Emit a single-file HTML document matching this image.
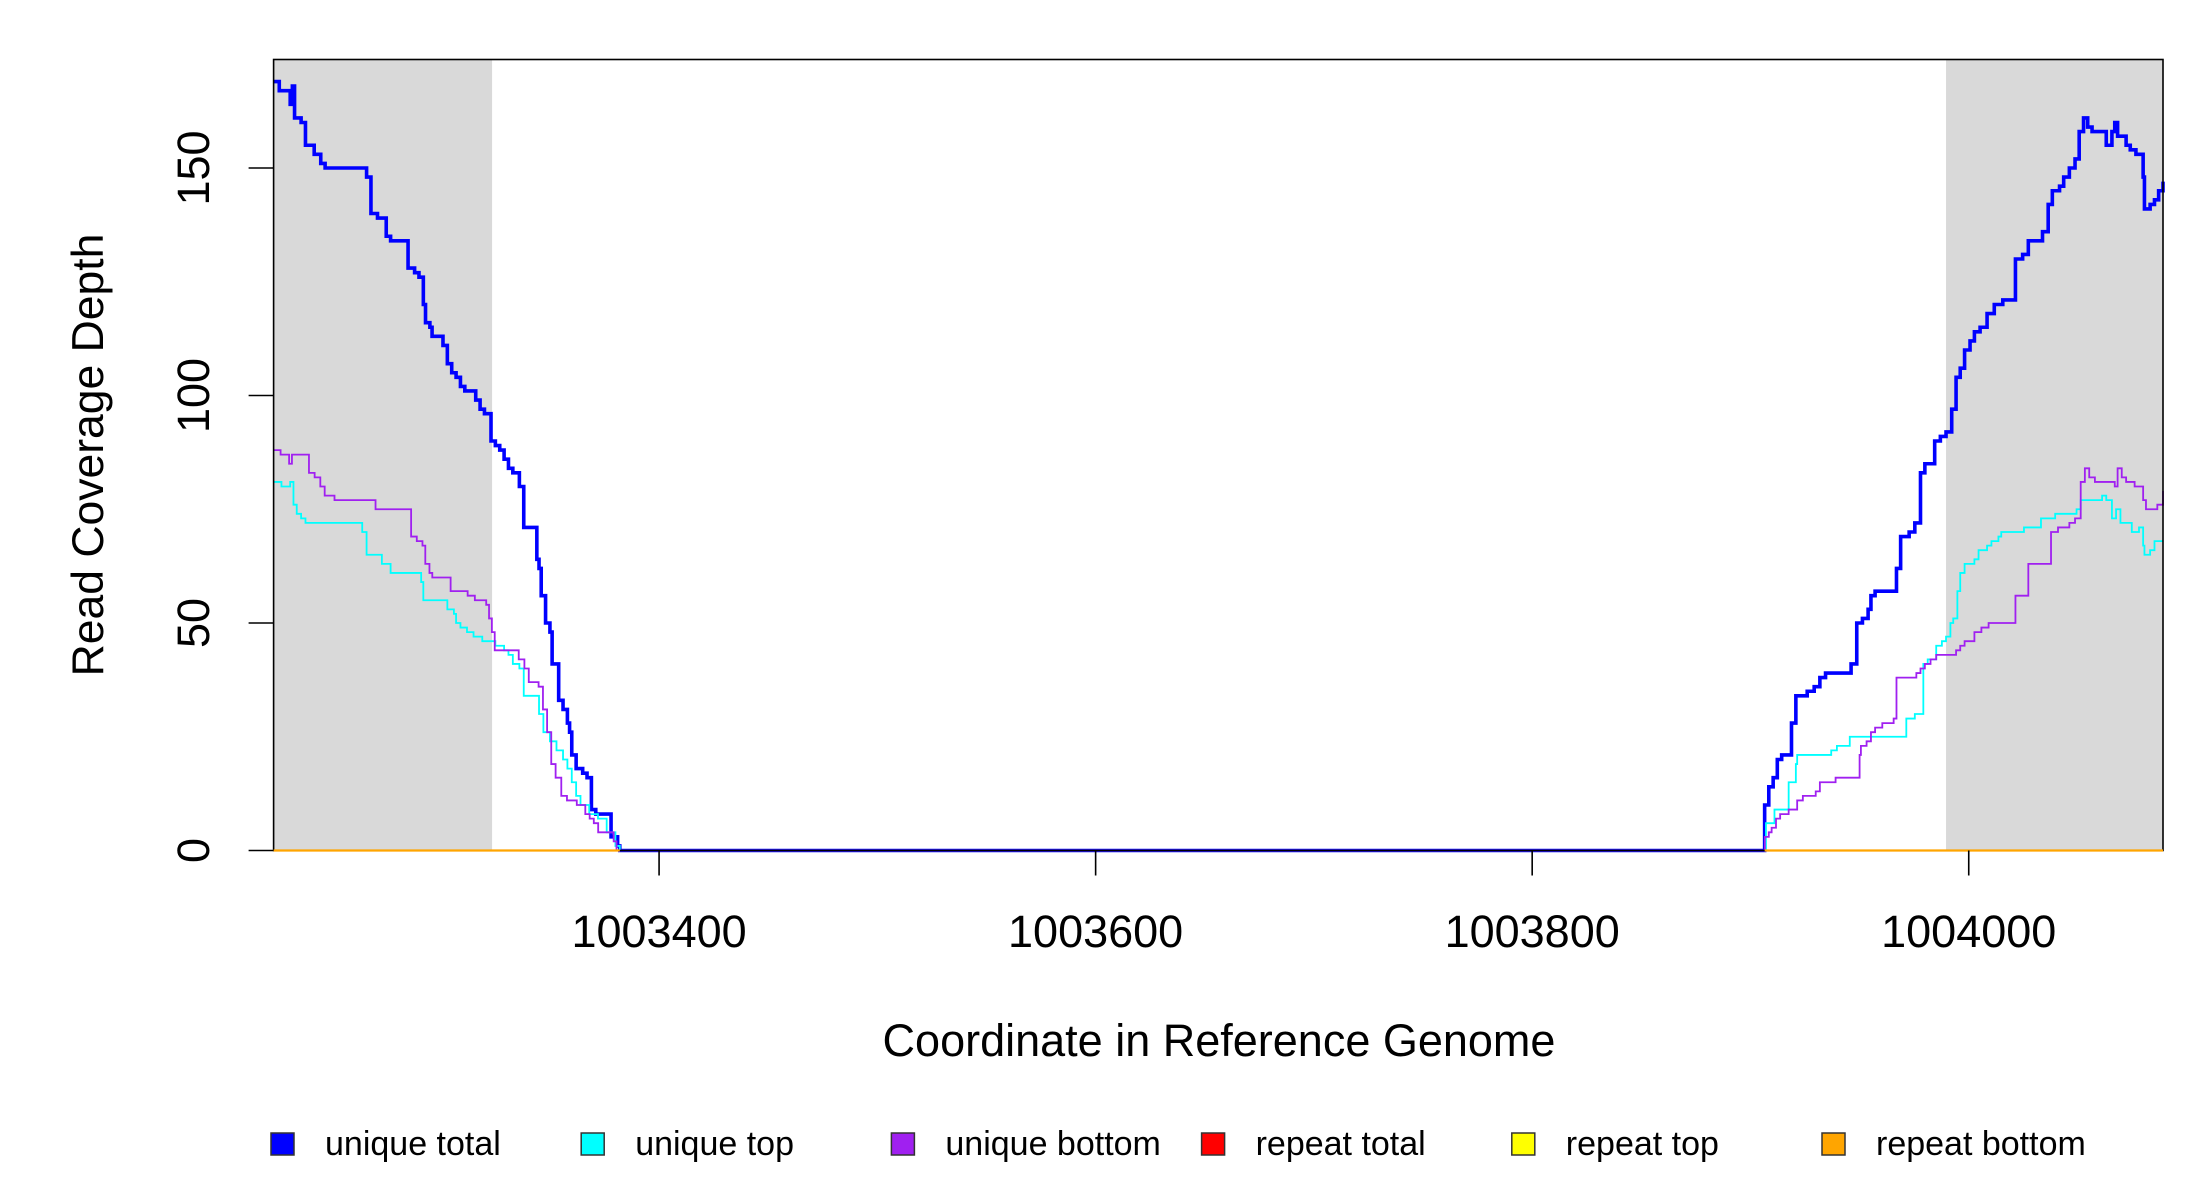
<!DOCTYPE html>
<html><head><meta charset="utf-8"><style>
html,body{margin:0;padding:0;background:#fff;}
svg{display:block;font-family:"Liberation Sans",sans-serif;}
</style></head><body>
<svg id="chart" width="2200" height="1200" viewBox="0 0 2200 1200" xmlns="http://www.w3.org/2000/svg"></svg>
<script>
const xTicks = [1003400, 1003600, 1003800, 1004000];
const yTicks = [0, 50, 100, 150];
const shadedRegions = [[1003223.4, 1003323.5], [1003989.6, 1004089]];
const zeroStart = 1003382, zeroEnd = 1003906.5;
const blueLeftX = [1003223.4,1003226,1003230,1003231,1003232,1003233,1003236,1003238,1003242,1003245,1003247,1003264,1003266,1003268,1003271,1003275,1003277,1003282,1003285,1003288,1003290,1003292,1003293,1003295,1003296,1003300,1003301,1003303,1003305,1003307,1003309,1003311,1003314,1003316,1003318,1003320,1003323,1003325,1003327,1003329,1003331,1003333,1003336,1003338,1003342,1003344,1003345,1003346,1003348,1003350,1003351,1003354,1003356,1003358,1003359,1003360,1003362,1003365,1003367,1003369,1003371,1003375,1003378,1003381,1003382];
const blueLeftY = [169,167,167,164,168,161,160,155,153,151,150,150,148,140,139,135,134,134,128,127,126,120,116,115,113,113,111,107,105,104,102,101,101,99,97,96,90,89,88,86,84,83,80,71,71,64,62,56,50,48,41,33,31,28,26,21,18,17,16,9,8,8,3,1,0];
const blueRightX = [1003906.5,1003908.4,1003910.4,1003912.3,1003914.3,1003918.8,1003920.8,1003926,1003929.2,1003931.8,1003934.4,1003942.9,1003946.1,1003948.7,1003951.3,1003953.9,1003955.2,1003957.1,1003964.9,1003966.9,1003968.8,1003972.7,1003975.3,1003977.9,1003979.9,1003982.5,1003984.4,1003987,1003989.6,1003992.2,1003994.2,1003996.1,1003998.1,1004000.6,1004002.6,1004005.2,1004008.4,1004011.7,1004015.6,1004021.4,1004024.7,1004027.3,1004030.5,1004033.8,1004036.4,1004038.3,1004041.6,1004043.5,1004046.1,1004048.7,1004050.6,1004052.6,1004054.5,1004056.5,1004060.4,1004063,1004065.6,1004066.9,1004068.2,1004070.8,1004072.1,1004074,1004076.6,1004077.9,1004079.9,1004080.5,1004083.1,1004085.1,1004087,1004089];
const blueRightY = [10,14,16,20,21,28,34,35,36,38,39,39,41,50,51,53,56,57,57,62,69,70,72,83,85,85,90,91,92,97,104,106,110,112,114,115,118,120,121,130,131,134,134,136,142,145,146,148,150,152,158,161,159,158,158,155,158,160,157,157,155,154,153,153,148,141,142,143,145,147];
const cyanLeftX = [1003223.4,1003227,1003231,1003232.5,1003234,1003236,1003238,1003264,1003266,1003273,1003277,1003291,1003292,1003303,1003306,1003307,1003309,1003312,1003315,1003319,1003325,1003329,1003331,1003333,1003336,1003338,1003345,1003347,1003350,1003353,1003356,1003358,1003360,1003362,1003364,1003368,1003372,1003376,1003380,1003382];
const cyanLeftY = [81,80,81,76,74,73,72,70,65,63,61,59,55,53,52,50,49,48,47,46,45,44,43,41,40,34,30,26,24,22,20,18,15,12,10,8,7,4,1,0];
const cyanRightX = [1003906.5,1003907.1,1003911,1003917.5,1003920.8,1003921.4,1003937,1003939.6,1003945.5,1003971.4,1003975.3,1003979.2,1003981.2,1003985.1,1003987.7,1003989.6,1003991.6,1003992.9,1003994.8,1003996.1,1003998.1,1004002.6,1004004.5,1004008.4,1004010.4,1004013.6,1004014.9,1004025.3,1004033.1,1004039.6,1004049.4,1004051.3,1004061.1,1004063,1004065.6,1004067.5,1004069.5,1004074.7,1004078,1004079.9,1004080.5,1004083.1,1004085.1,1004089];
const cyanRightY = [0,6,9,15,19,21,22,23,25,29,30,41,42,45,46,47,50,51,57,61,63,64,66,67,68,69,70,71,73,74,75,77,78,77,73,75,72,70,71,67,65,66,68,68];
const purpleLeftX = [1003223.4,1003226.6,1003230.5,1003231.8,1003239.6,1003242.2,1003244.8,1003246.8,1003251.3,1003270.1,1003286.4,1003289,1003291.6,1003292.9,1003294.8,1003296.1,1003304.5,1003312.3,1003315.6,1003320.8,1003322.1,1003323.4,1003324.7,1003335.7,1003338.3,1003340.3,1003344.8,1003346.8,1003348.7,1003350.6,1003352.6,1003355.2,1003357.8,1003362.3,1003366.2,1003368.2,1003370.1,1003372.1,1003379.2,1003380.5,1003382];
const purpleLeftY = [88,87,85,87,83,82,80,78,77,75,69,68,67,63,61,60,57,56,55,54,51,48,44,42,40,37,36,31,26,19,16,12,11,10,8,7,6,4,2,0,0];
const purpleRightX = [1003906.5,1003906.6,1003908.4,1003909.7,1003911.7,1003913.6,1003917.5,1003921.4,1003924,1003929.9,1003931.8,1003939,1003950,1003950.6,1003953.2,1003955.2,1003957.1,1003960.4,1003965.6,1003966.9,1003976,1003977.9,1003979.9,1003982.5,1003985.1,1003994.2,1003996.1,1003998.1,1004002.6,1004005.8,1004009.1,1004021.4,1004027.3,1004037.7,1004040.9,1004046.1,1004048.7,1004051.3,1004053.2,1004055.2,1004057.8,1004066.9,1004068.2,1004070.1,1004072.1,1004076,1004079.9,1004081.2,1004086.4,1004089];
const purpleRightY = [0,3,4,5,7,8,9,11,12,13,15,16,21,23,24,26,27,28,29,38,39,40,41,42,43,44,45,46,48,49,50,56,63,70,71,72,73,81,84,82,81,80,84,82,81,80,77,75,76,79];
const legendLabels = ["unique total","unique top","unique bottom","repeat total","repeat top","repeat bottom"];
const legendColors = ["#0000ff","#00ffff","#a020f0","#ff0000","#ffff00","#ffa500"];

const svg = document.getElementById('chart');
const NS = 'http://www.w3.org/2000/svg';
const L = 273.6, R = 2163, T = 59.5, B = 850.5;
const xMin = 1003223.4, xMax = 1004089;
const yPer = 4.55;
function sx(v){ return L + (v - xMin) * (R - L) / (xMax - xMin); }
function sy(v){ return B - v * yPer; }
function mk(tag, attrs){ const e = document.createElementNS(NS, tag); for (const k in attrs) e.setAttribute(k, attrs[k]); svg.appendChild(e); return e; }

shadedRegions.forEach((r, i) => {
  const e = mk('rect', {x: sx(r[0]), y: T, width: sx(r[1]) - sx(r[0]), height: B - T, fill: '#d9d9d9'});
  
  
});

function stepPath(xs, ys){
  let d = 'M' + sx(xs[0]) + ' ' + sy(ys[0]);
  for (let i = 1; i < xs.length; i++){ d += ' H' + sx(xs[i]) + ' V' + sy(ys[i]); }
  return d;
}
function line(d, color, w, name){
  const e = mk('path', {d: d, fill: 'none', stroke: color, 'stroke-width': w, 'stroke-linejoin': 'miter'});
  
  
}
line(stepPath(blueLeftX, blueLeftY) + ' H' + sx(zeroEnd) + ' V' + sy(blueRightY[0]) + ' ' + stepPath(blueRightX, blueRightY).replace(/^M[^H]*/, ''), '#0000ff', 3.6, 'unique-total-line');
line(stepPath(cyanLeftX, cyanLeftY) + ' H' + sx(zeroEnd) + ' ' + stepPath(cyanRightX, cyanRightY).replace(/^M[^H]*/, ''), '#00ffff', 1.8, 'unique-top-line');
line(stepPath(purpleLeftX, purpleLeftY) + ' H' + sx(zeroEnd) + ' ' + stepPath(purpleRightX, purpleRightY).replace(/^M[^H]*/, ''), '#a020f0', 1.8, 'unique-bottom-line');

const box = mk('rect', {x: L, y: T, width: R - L, height: B - T, fill: 'none', stroke: '#000', 'stroke-width': 1.6});



line('M' + sx(xMin) + ' ' + sy(0) + ' H' + sx(zeroStart), '#ffa500', 2.2, 'repeat-bottom-line-left');
line('M' + sx(zeroEnd) + ' ' + sy(0) + ' H' + sx(xMax), '#ffa500', 2.2, 'repeat-bottom-line-right');

xTicks.forEach(v => {
  const t = mk('line', {x1: sx(v), x2: sx(v), y1: B, y2: B + 25, stroke: '#000', 'stroke-width': 1.6});
  
  
  const lb = mk('text', {x: sx(v), y: 947, 'text-anchor': 'middle', 'font-size': 45, fill: '#000'});
  lb.textContent = v;
  
  
});
yTicks.forEach(v => {
  const t = mk('line', {x1: L - 25, x2: L, y1: sy(v), y2: sy(v), stroke: '#000', 'stroke-width': 1.6});
  
  
  const lb = mk('text', {x: 0, y: 0, 'text-anchor': 'middle', 'font-size': 45, fill: '#000', transform: 'translate(209,' + sy(v) + ') rotate(-90)'});
  lb.textContent = v;
  
  
});
const yt = mk('text', {x: 0, y: 0, 'text-anchor': 'middle', 'font-size': 44.5, fill: '#000', transform: 'translate(103,455) rotate(-90)'});
yt.textContent = 'Read Coverage Depth';


const xt = mk('text', {x: 1219, y: 1056, 'text-anchor': 'middle', 'font-size': 45, fill: '#000'});
xt.textContent = 'Coordinate in Reference Genome';



legendLabels.forEach((lab, i) => {
  const x0 = 271 + i * 310.2;
  const sq = mk('rect', {x: x0, y: 1133, width: 23, height: 22, fill: legendColors[i], stroke: '#333', 'stroke-width': 1.5});
  
  
  const tx = mk('text', {x: x0 + 54, y: 1155, 'font-size': 34, fill: '#000'});
  tx.textContent = lab;
  
  
});
</script>
</body></html>
